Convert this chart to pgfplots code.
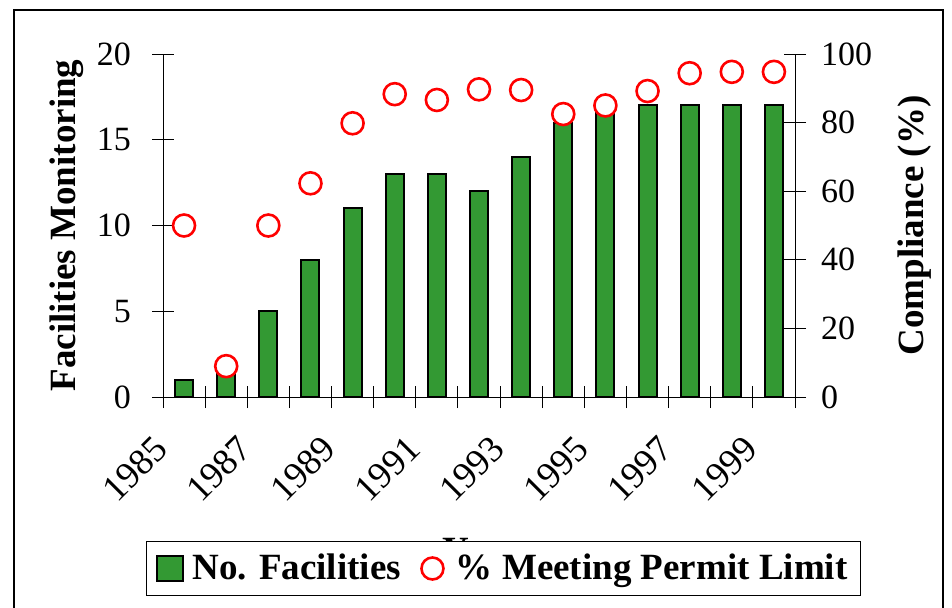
\documentclass[border=0pt]{standalone}
\usepackage{fontspec}
\setmainfont{Liberation Serif}
\usepackage{pgfplots}
\pgfplotsset{compat=1.18}
\definecolor{barGreen}{RGB}{51,153,51}

\begin{document}
\begin{tikzpicture}
\useasboundingbox (0,0) rectangle (476pt,303.5pt);
% outer frame (bottom edge is cut off in the original)
\draw[line width=0.6pt] (7pt,-2pt) -- (7pt,298.5pt) -- (471.5pt,298.5pt) -- (471.5pt,-2pt);

\pgfplotsset{
  every axis/.append style={
    at={(81.5pt,105pt)}, anchor=south west,
    scale only axis, width=316pt, height=171.5pt,
    xmin=-0.5, xmax=14.5, ymin=0,
    tick align=center, major tick length=11pt, minor tick length=11pt,
    every tick/.style={black, line width=0.5pt},
    axis line style={line width=0.5pt},
    /pgf/number format/assume math mode=true,
    ticklabel style={font=\fontsize{17}{20}\selectfont},
    label style={font=\fontsize{18.5}{22}\selectfont\bfseries},
  }
}

\begin{axis}[
  ymax=20,
  axis y line*=left, axis x line*=bottom,
  ytick={0,5,...,20},
  xtick={0,2,...,14},
  xticklabels={1985,1987,1989,1991,1993,1995,1997,1999},
  minor xtick={-0.5,0.5,...,14.5},
  major x tick style={draw=none},
  xticklabel style={font=\fontsize{18.5}{22}\selectfont,
    xshift=-16pt, yshift=-8pt, rotate=45, anchor=north east},
  yticklabel style={xshift=-7pt},
  xlabel={Year},
  xlabel style={at={(axis description cs:0.5,0)}, anchor=north, yshift=-67pt},
  ylabel={Facilities Monitoring},
  ylabel style={at={(axis description cs:-0.152,0.5)}, anchor=center},
]
\addplot[ybar, bar width=9pt, fill=barGreen, draw=black, line width=1pt] coordinates {
  (0,1) (1,2) (2,5) (3,8) (4,11) (5,13) (6,13) (7,12)
  (8,14) (9,16) (10,17) (11,17) (12,17) (13,17) (14,17)
};
\end{axis}

\begin{axis}[
  ymax=100,
  axis y line*=right, axis x line=none,
  ytick={0,20,...,100},
  yticklabel style={xshift=4pt},
  ylabel={Compliance (\%)},
  ylabel style={at={(axis description cs:1.19,0.5)}, anchor=center},
  legend columns=2,
  legend style={at={(0.539,-0.5)}, anchor=center, draw=black, line width=0.5pt,
    fill=white, font=\fontsize{18.5}{22}\selectfont\bfseries,
    inner xsep=4.5pt, inner ysep=4.5pt,
    /tikz/every even column/.append style={column sep=6pt}},
]
\addlegendimage{legend image code/.code={
  \draw[fill=barGreen, draw=black, line width=1pt] (0pt,-6pt) rectangle (13pt,6.5pt);
  \path (15.5pt,0pt);}}
\addlegendentry{No. Facilities}
\addplot[only marks, mark=*, mark size=5.5pt, mark options={draw=red, fill=white, line width=1.3pt},
  legend image code/.code={
    \path (-1pt,0pt) (16pt,0pt);
    \draw[red, fill=white, line width=1.3pt] (6.5pt,0pt) circle (5.5pt);}] coordinates {
  (0,50) (1,9) (2,50) (3,62.3) (4,79.8) (5,88.3) (6,86.6) (7,89.7)
  (8,89.5) (9,82.5) (10,85) (11,89.2) (12,94.4) (13,94.8) (14,94.8)
};
\addlegendentry{\% Meeting Permit Limit}
\end{axis}
\end{tikzpicture}
\end{document}
